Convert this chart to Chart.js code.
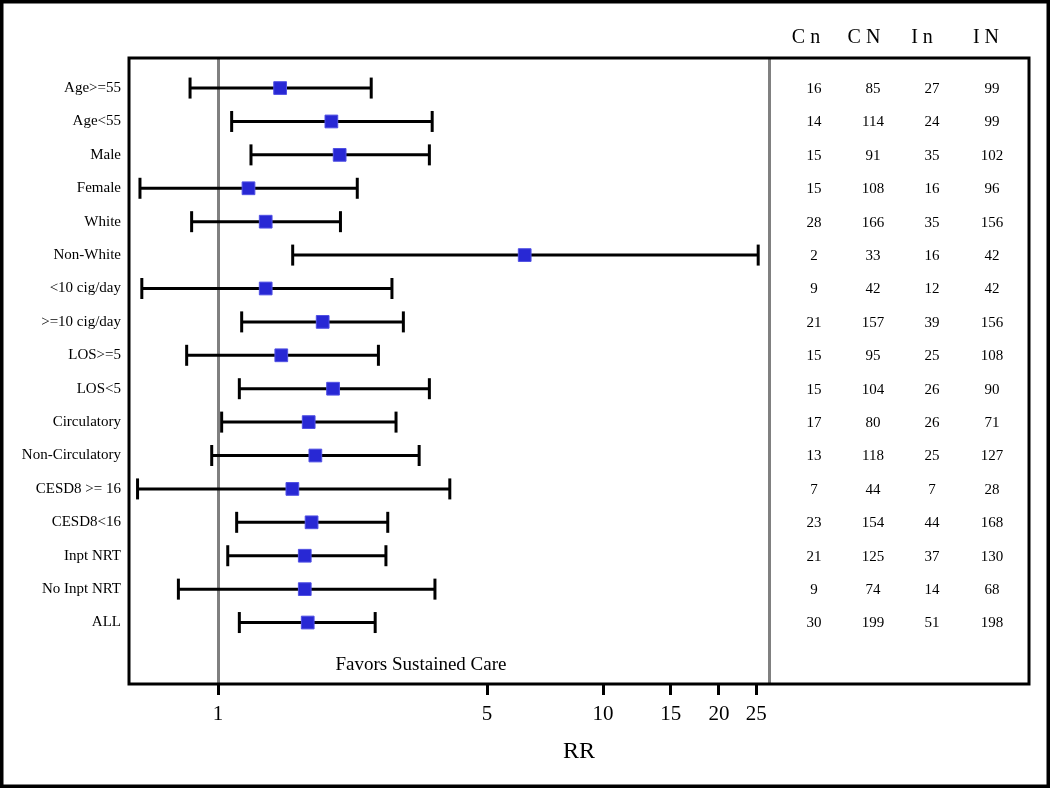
<!DOCTYPE html>
<html>
<head>
<meta charset="utf-8">
<script src="https://cdn.jsdelivr.net/npm/chart.js@4"></script>
<style>
  html, body { margin: 0; padding: 0; background: #fff; }
  #wrap { width: 1050px; height: 788px; }
</style>
</head>
<body>
<div id="wrap"><canvas id="forest" width="1050" height="788"></canvas></div>
<script>
// subgroups, top to bottom
const groups = ['Age>=55', 'Age<55', 'Male', 'Female', 'White', 'Non-White', '<10 cig/day', '>=10 cig/day',
  'LOS>=5', 'LOS<5', 'Circulatory', 'Non-Circulatory', 'CESD8 >= 16', 'CESD8<16', 'Inpt NRT', 'No Inpt NRT', 'ALL'];
// relative risk and 95% CI
const rr    = [1.45, 1.97, 2.07, 1.20, 1.33, 6.26, 1.33, 1.87, 1.46, 1.99, 1.72, 1.79, 1.56, 1.75, 1.68, 1.68, 1.71];
const lower = [0.846, 1.085, 1.218, 0.627, 0.854, 1.563, 0.634, 1.152, 0.829, 1.136, 1.022, 0.963, 0.618, 1.118, 1.060, 0.789, 1.136];
const upper = [2.50, 3.60, 3.54, 2.30, 2.08, 25.3, 2.83, 3.03, 2.61, 3.54, 2.90, 3.33, 4.00, 2.76, 2.73, 3.66, 2.56];
// counts table
const tableHeaders = ['C n', 'C N', 'I n', 'I N'];
const ctrlEvents = [16, 14, 15, 15, 28, 2, 9, 21, 15, 15, 17, 13, 7, 23, 21, 9, 30];
const ctrlTotal  = [85, 114, 91, 108, 166, 33, 42, 157, 95, 104, 80, 118, 44, 154, 125, 74, 199];
const intEvents  = [27, 24, 35, 16, 35, 16, 12, 39, 25, 26, 26, 25, 7, 44, 37, 14, 51];
const intTotal   = [99, 99, 102, 96, 156, 42, 42, 156, 108, 90, 71, 127, 28, 168, 130, 68, 198];
const xTicks = [1, 5, 10, 15, 20, 25];
const refLines = [1, 27];
const noteText = 'Favors Sustained Care';

const serif = '"Liberation Serif", "Times New Roman", serif';

// one line dataset per subgroup for the CI whiskers
const ciSets = groups.map((g, i) => ({
  type: 'line',
  label: g,
  data: [{ x: lower[i], y: i }, { x: upper[i], y: i }],
  borderColor: '#000',
  borderWidth: 3,
  pointStyle: 'line',
  pointRotation: 90,
  pointRadius: 10.5,
  pointBorderWidth: 3,
  pointBorderColor: '#000',
  fill: false,
  tension: 0,
  order: 2
}));

const pointSet = {
  type: 'scatter',
  label: 'RR',
  data: rr.map((v, i) => ({ x: v, y: i })),
  pointStyle: 'rect',
  pointRadius: 9,
  backgroundColor: '#2828d4',
  borderColor: '#5050e4',
  borderWidth: 1,
  order: 0
};

const decor = {
  id: 'decor',
  beforeDatasetsDraw(chart) {
    const { ctx, chartArea: a, scales: { x } } = chart;
    ctx.save();
    ctx.strokeStyle = '#808080';
    ctx.lineWidth = 3;
    refLines.forEach(v => {
      const px = Math.round(x.getPixelForValue(v)) + 0.5;
      ctx.beginPath();
      ctx.moveTo(px, a.top);
      ctx.lineTo(px, a.bottom);
      ctx.stroke();
    });
    ctx.restore();
  },
  afterDraw(chart) {
    const { ctx, chartArea: a, scales: { y } } = chart;
    ctx.save();
    // plot box
    ctx.strokeStyle = '#000';
    ctx.lineWidth = 3;
    ctx.strokeRect(a.left, a.top, a.right - a.left, a.bottom - a.top);
    // outer frame
    ctx.lineWidth = 3.5;
    ctx.strokeRect(1.75, 1.75, chart.width - 3.5, chart.height - 3.5);

    // table
    ctx.fillStyle = '#000';
    ctx.textAlign = 'center';
    ctx.textBaseline = 'middle';
    ctx.font = '20px ' + serif;
    const headX = [806, 864, 922, 986];
    tableHeaders.forEach((h, k) => ctx.fillText(h, headX[k], 38));
    ctx.font = '15px ' + serif;
    const colX = [814, 873, 932, 992];
    const cols = [ctrlEvents, ctrlTotal, intEvents, intTotal];
    groups.forEach((g, i) => {
      const py = y.getPixelForValue(i) + 1;
      cols.forEach((c, k) => ctx.fillText(String(c[i]), colX[k], py));
    });

    ctx.font = '19px ' + serif;
    ctx.fillText(noteText, 421, 665);
    ctx.restore();
  }
};

new Chart(document.getElementById('forest'), {
  type: 'scatter',
  data: { datasets: [pointSet, ...ciSets] },
  options: {
    responsive: false,
    animation: false,
    layout: { padding: { top: 58, right: 21, left: 0, bottom: 0 } },
    plugins: { legend: { display: false }, tooltip: { enabled: false } },
    scales: {
      x: {
        type: 'logarithmic',
        bounds: 'data',
        min: 0.5872,
        max: 127.8,
        afterBuildTicks: s => { s.ticks = xTicks.map(v => ({ value: v })); },
        afterFit: s => { s.height = 104; },
        grid: { drawOnChartArea: false, drawTicks: true, tickLength: 11, color: '#000', lineWidth: 3 },
        border: { display: false },
        ticks: {
          color: '#000',
          padding: 7,
          maxRotation: 0,
          autoSkip: false,
          font: { family: serif, size: 21 },
          callback: v => String(v)
        },
        title: {
          display: true,
          text: 'RR',
          color: '#000',
          font: { family: serif, size: 24 },
          padding: { top: 0, bottom: 22 }
        }
      },
      y: {
        type: 'linear',
        reverse: true,
        bounds: 'data',
        min: -0.9,
        max: 17.84,
        afterBuildTicks: s => { s.ticks = groups.map((g, i) => ({ value: i })); },
        afterFit: s => { s.width = 129; },
        grid: { display: false },
        border: { display: false },
        ticks: {
          color: '#000',
          padding: 0,
          autoSkip: false,
          font: { family: serif, size: 15 },
          callback: v => groups[v]
        }
      }
    }
  },
  plugins: [decor]
});
</script>
</body>
</html>
